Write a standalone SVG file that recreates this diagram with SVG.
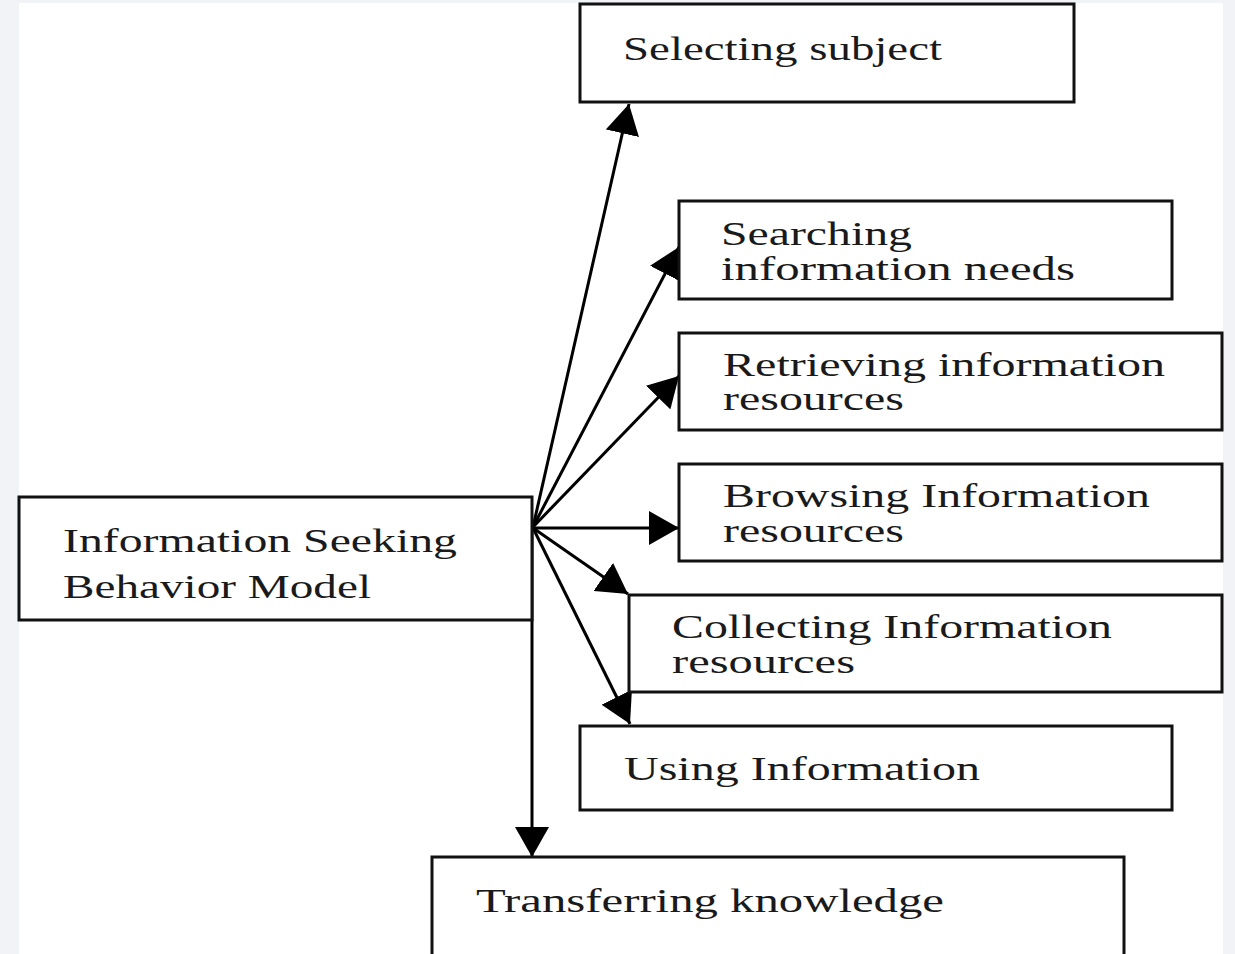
<svg xmlns="http://www.w3.org/2000/svg" width="1235" height="954" viewBox="0 0 1235 954">
<style>
.bx{fill:#fff;stroke:#111;stroke-width:3}
.t{font-family:"Liberation Serif","DejaVu Serif",serif;font-size:34px;fill:#1a1a1a}
.c{stroke:#000;stroke-width:3;fill:none}
</style>
<defs>
<marker id="ah" markerUnits="userSpaceOnUse" markerWidth="32" markerHeight="34" refX="30" refY="17" orient="auto">
<path d="M0,0 L30,17 L0,34 Z" fill="#000"/>
</marker>
</defs>
<rect x="0" y="0" width="1235" height="954" fill="#f2f3f7"/>
<rect x="19" y="3" width="1204" height="951" fill="#fff"/>
<g id="connectors">
<line class="c" x1="533" y1="527" x2="629" y2="104" marker-end="url(#ah)"/>
<line class="c" x1="533" y1="527" x2="679" y2="247" marker-end="url(#ah)"/>
<line class="c" x1="533" y1="527" x2="679" y2="376" marker-end="url(#ah)"/>
<line class="c" x1="533" y1="528" x2="679" y2="528" marker-end="url(#ah)"/>
<line class="c" x1="533" y1="528" x2="628" y2="594" marker-end="url(#ah)"/>
<line class="c" x1="533" y1="528" x2="630" y2="724" marker-end="url(#ah)"/>
<line class="c" x1="532" y1="527" x2="532" y2="857" marker-end="url(#ah)"/>
</g>
<g id="n-model">
<rect class="bx" x="19" y="497" width="513" height="123"/>
<text class="t" x="63" y="552" textLength="394" lengthAdjust="spacingAndGlyphs">Information Seeking</text>
<text class="t" x="63" y="598" textLength="308" lengthAdjust="spacingAndGlyphs">Behavior Model</text>
</g>
<g id="n-selecting">
<rect class="bx" x="580" y="4" width="494" height="98"/>
<text class="t" x="623" y="60" textLength="319" lengthAdjust="spacingAndGlyphs">Selecting subject</text>
</g>
<g id="n-searching">
<rect class="bx" x="679" y="201" width="493" height="98"/>
<text class="t" x="721" y="245" textLength="191" lengthAdjust="spacingAndGlyphs">Searching</text>
<text class="t" x="721" y="280" textLength="354" lengthAdjust="spacingAndGlyphs">information needs</text>
</g>
<g id="n-retrieving">
<rect class="bx" x="679" y="333" width="543" height="97"/>
<text class="t" x="723" y="376" textLength="442" lengthAdjust="spacingAndGlyphs">Retrieving information</text>
<text class="t" x="723" y="410" textLength="181" lengthAdjust="spacingAndGlyphs">resources</text>
</g>
<g id="n-browsing">
<rect class="bx" x="679" y="464" width="543" height="97"/>
<text class="t" x="723" y="507" textLength="427" lengthAdjust="spacingAndGlyphs">Browsing Information</text>
<text class="t" x="723" y="542" textLength="181" lengthAdjust="spacingAndGlyphs">resources</text>
</g>
<g id="n-collecting">
<rect class="bx" x="629" y="595" width="593" height="97"/>
<text class="t" x="672" y="638" textLength="440" lengthAdjust="spacingAndGlyphs">Collecting Information</text>
<text class="t" x="672" y="673" textLength="183" lengthAdjust="spacingAndGlyphs">resources</text>
</g>
<g id="n-using">
<rect class="bx" x="580" y="726" width="592" height="84"/>
<text class="t" x="624" y="780" textLength="356" lengthAdjust="spacingAndGlyphs">Using Information</text>
</g>
<g id="n-transferring">
<rect class="bx" x="432" y="857" width="692" height="110"/>
<text class="t" x="476" y="912" textLength="468" lengthAdjust="spacingAndGlyphs">Transferring knowledge</text>
</g>
</svg>
